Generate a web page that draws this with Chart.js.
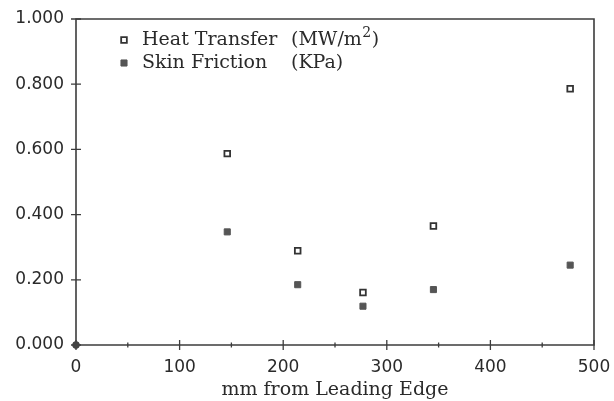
<!DOCTYPE html>
<html><head><meta charset="utf-8">
<script src="https://cdn.jsdelivr.net/npm/chart.js@4"></script>
<style>html,body{margin:0;padding:0;background:#fff;}</style>
</head><body>
<canvas id="c" width="614" height="401"></canvas>
<script>
// ---- data ----
const positions = [146, 214, 277, 345, 477];
const heatTransfer = [0.587, 0.289, 0.161, 0.365, 0.786];
const skinFriction = [0.347, 0.185, 0.119, 0.170, 0.245];
const originX = [0];
const originY = [0];
const seriesNames = ['Heat Transfer', 'Skin Friction'];
const seriesUnits = ['(MW/m²)', '(KPa)'];
const xTitle = 'mm from Leading Edge';
const xMin = 0, xMax = 500, xStep = 100;
const yMin = 0, yMax = 1, yStep = 0.2;

const ink = '#2a2a2a';
const axisInk = '#3c3c3c';

const toPts = (xs, ys) => xs.map((x, i) => ({x, y: ys[i]}));

const framePlugin = {
  id: 'frame',
  beforeDatasetsDraw(chart) {
    const {ctx, chartArea: a, scales: {x, y}} = chart;
    ctx.save();
    ctx.strokeStyle = axisInk;
    ctx.lineWidth = 1.6;
    ctx.beginPath();
    ctx.moveTo(a.left, a.top); ctx.lineTo(a.right, a.top);
    ctx.lineTo(a.right, a.bottom); ctx.lineTo(a.left, a.bottom);
    ctx.closePath();
    ctx.stroke();
    ctx.lineWidth = 1.3;
    ctx.beginPath();
    x.ticks.forEach(t => {
      const px = x.getPixelForValue(t.value);
      ctx.moveTo(px, a.bottom - 5); ctx.lineTo(px, a.bottom + 5);
    });
    for (let i = 0; i < x.ticks.length - 1; i++) {
      const px = x.getPixelForValue((x.ticks[i].value + x.ticks[i + 1].value) / 2);
      ctx.moveTo(px, a.bottom - 2.5); ctx.lineTo(px, a.bottom + 2.5);
    }
    y.ticks.forEach(t => {
      const py = y.getPixelForValue(t.value);
      ctx.moveTo(a.left - 5, py); ctx.lineTo(a.left + 5, py);
    });
    ctx.stroke();
    ctx.restore();
  },
  afterDraw(chart) {
    const {ctx} = chart;
    ctx.save();
    const rows = [40, 63];
    const markerX = 124, textX = 142, unitX = 291;
    ctx.textBaseline = 'middle';
    ctx.fillStyle = ink;
    for (let i = 0; i < 2; i++) {
      const ds = chart.data.datasets[i];
      const yy = rows[i];
      const s = ds.pointRadius * Math.SQRT1_2;
      ctx.fillStyle = ds.backgroundColor;
      ctx.strokeStyle = ds.borderColor;
      ctx.lineWidth = ds.borderWidth;
      ctx.beginPath();
      ctx.rect(markerX - s, yy - s, 2 * s, 2 * s);
      ctx.fill(); ctx.stroke();
      ctx.fillStyle = ink;
      ctx.font = '19px "DejaVu Serif"';
      ctx.textAlign = 'left';
      ctx.fillText(seriesNames[i], textX, yy);
      const unit = seriesUnits[i];
      const sup = unit.indexOf('²');
      if (sup >= 0) {
        const pre = unit.slice(0, sup), post = unit.slice(sup + 1);
        ctx.fillText(pre, unitX, yy);
        let w = ctx.measureText(pre).width;
        ctx.font = '14px "DejaVu Serif"';
        ctx.fillText('2', unitX + w + 0.5, yy - 7);
        w += ctx.measureText('2').width + 1;
        ctx.font = '19px "DejaVu Serif"';
        ctx.fillText(post, unitX + w, yy);
      } else {
        ctx.fillText(unit, unitX, yy);
      }
    }
    ctx.restore();
  }
};

new Chart(document.getElementById('c'), {
  type: 'scatter',
  data: {
    datasets: [
      {
        label: seriesNames[0] + ' ' + seriesUnits[0],
        data: toPts(positions, heatTransfer),
        pointStyle: 'rect', pointRadius: 4, borderWidth: 1.8,
        borderColor: '#333333', backgroundColor: '#ffffff', clip: false
      },
      {
        label: seriesNames[1] + ' ' + seriesUnits[1],
        data: toPts(positions, skinFriction),
        pointStyle: 'rect', pointRadius: 4.3, borderWidth: 1,
        borderColor: '#555555', backgroundColor: '#555555', clip: false
      },
      {
        label: 'origin',
        data: toPts(originX, originY),
        pointStyle: 'circle', pointRadius: 3.4, borderWidth: 1,
        borderColor: '#444444', backgroundColor: '#444444', clip: false
      }
    ]
  },
  options: {
    responsive: false,
    animation: false,
    devicePixelRatio: 1,
    layout: {padding: {top: 19, right: 20, left: 0, bottom: 0}},
    plugins: {legend: {display: false}, tooltip: {enabled: false}},
    scales: {
      x: {
        type: 'linear', min: xMin, max: xMax,
        afterFit(s) { s.height = 56; s.paddingLeft = 0; s.paddingRight = 0; },
        grid: {display: false, drawTicks: false},
        border: {display: false},
        ticks: {stepSize: xStep, padding: 12, color: ink, maxRotation: 0,
          font: {family: '"DejaVu Sans"', size: 17}},
        title: {display: true, text: xTitle, color: ink,
          font: {family: '"DejaVu Serif"', size: 19}, padding: {top: 0, bottom: 0}}
      },
      y: {
        type: 'linear', min: yMin, max: yMax,
        afterFit(s) { s.width = 76; s.paddingTop = 0; s.paddingBottom = 0; },
        grid: {display: false, drawTicks: false},
        border: {display: false},
        ticks: {stepSize: yStep, padding: 12, color: ink,
          font: {family: '"DejaVu Sans"', size: 17},
          callback: v => Number(v).toFixed(3)}
      }
    }
  },
  plugins: [framePlugin]
});
</script>
</body></html>
